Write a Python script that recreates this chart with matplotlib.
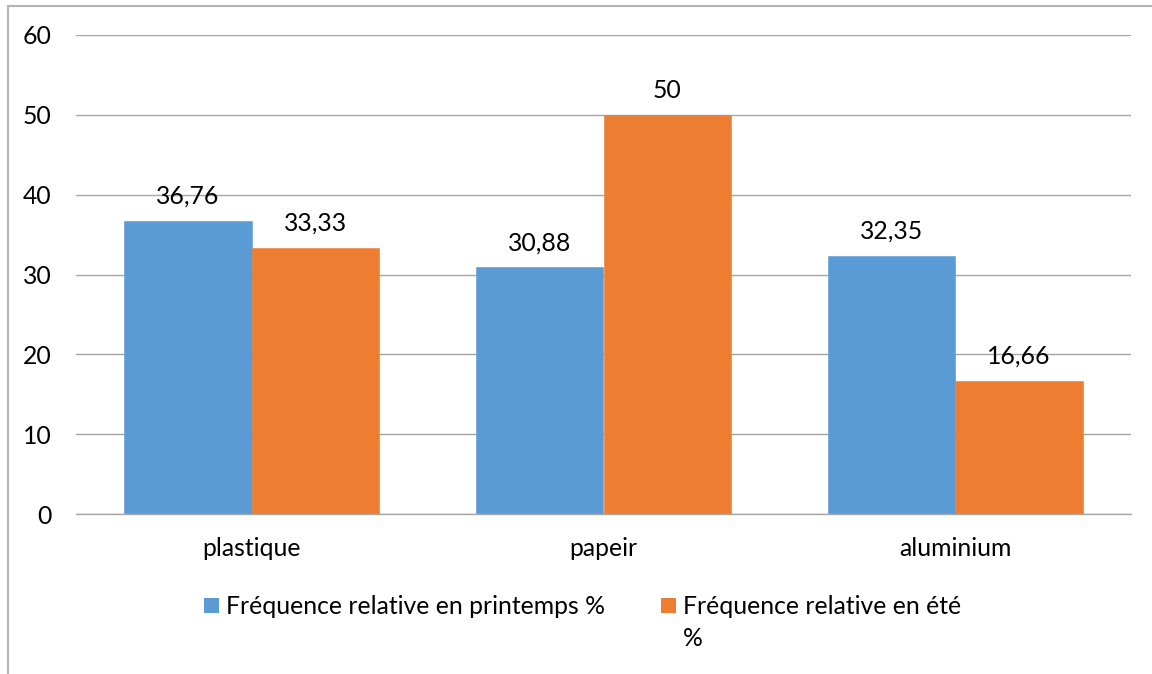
import matplotlib
matplotlib.use("Agg")
import matplotlib.pyplot as plt
from matplotlib.lines import Line2D
from matplotlib.patches import Rectangle
import numpy as np

categories = ["plastique", "papeir", "aluminium"]
printemps = [36.76, 30.88, 32.35]
ete = [33.33, 50, 16.66]
printemps_labels = ["36,76", "30,88", "32,35"]
ete_labels = ["33,33", "50", "16,66"]
series_names = ["Fréquence relative en printemps %", "Fréquence relative en été", "%"]
yticks = [0, 10, 20, 30, 40, 50, 60]

BLUE = "#5b9bd5"
ORANGE = "#ed7d31"
GRID = "#a6a6a6"
FS = 17.8

plt.rcParams["font.family"] = ["Lato", "DejaVu Sans"]

W, H = 1152, 674
fig = plt.figure(figsize=(W / 100, H / 100), dpi=100)
ax = fig.add_axes([76 / W, 1 - 514 / H, (1131 - 76) / W, (514 - 35) / H])

x = np.arange(len(categories))
bw = 0.3625
ax.bar(x - bw / 2, printemps, bw, color=BLUE, edgecolor=BLUE, linewidth=0.4)
ax.bar(x + bw / 2, ete, bw, color=ORANGE, edgecolor=ORANGE, linewidth=0.4)

for xi, v, t in zip(x, printemps, printemps_labels):
    ax.annotate(t, (xi - bw / 2, v), xytext=(0, 9.5), textcoords="offset points",
                ha="center", va="bottom", fontsize=FS, color="#000000")
for xi, v, t in zip(x, ete, ete_labels):
    ax.annotate(t, (xi + bw / 2, v), xytext=(0, 9.5), textcoords="offset points",
                ha="center", va="bottom", fontsize=FS, color="#000000")

ax.set_xlim(-0.5, len(categories) - 0.5)
ax.set_ylim(0, 60)
ax.set_yticks(yticks)
ax.yaxis.grid(True, color=GRID, linewidth=1.0)
ax.set_axisbelow(True)
for s in ["top", "right", "left"]:
    ax.spines[s].set_visible(False)
ax.spines["bottom"].set_color(GRID)
ax.spines["bottom"].set_linewidth(1.0)
ax.tick_params(axis="both", length=0, labelsize=FS, colors="#000000")
ax.tick_params(axis="y", pad=17.5)
ax.tick_params(axis="x", pad=16.5)
ax.set_xticks(x)
ax.set_xticklabels(categories)

# legend, laid out in pixel coordinates of the figure
def px(xp, yp):
    return xp / W, 1 - yp / H

for (x0, color) in [(204, BLUE), (661, ORANGE)]:
    fig.add_artist(Rectangle(px(x0, 613), 15 / W, 15 / H, transform=fig.transFigure,
                             facecolor=color, edgecolor="none"))
fig.text(*px(226, 606), series_names[0], fontsize=FS, va="center", ha="left")
fig.text(*px(683, 606), series_names[1], fontsize=FS, va="center", ha="left")
fig.text(*px(683, 638), series_names[2], fontsize=FS, va="center", ha="left")

# outer chart border (left and top edges)
fig.add_artist(Line2D([7.5 / W, 7.5 / W], [0, 1 - 5.5 / H], transform=fig.transFigure,
                      color="#b4b4b4", linewidth=1.5))
fig.add_artist(Line2D([7.5 / W, 1], [1 - 5.5 / H, 1 - 5.5 / H], transform=fig.transFigure,
                      color="#b4b4b4", linewidth=1.5))

fig.savefig("out.png", dpi=100)
